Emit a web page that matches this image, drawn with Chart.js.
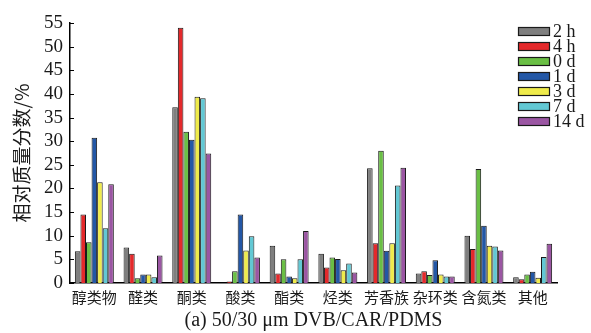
<!DOCTYPE html>
<html>
<head>
<meta charset="utf-8">
<script src="https://cdn.jsdelivr.net/npm/chart.js@4/dist/chart.umd.min.js"></script>
<style>
  html, body { margin: 0; padding: 0; background: #fff; }
  #wrap { width: 591px; height: 333px; }
</style>
</head>
<body>
<div id="wrap"><canvas id="c" width="591" height="333"></canvas></div>
<script>
// Compound classes on the x axis
const categories = ['醇类物', '醛类', '酮类', '酸类', '酯类', '烃类', '芳香族', '杂环类', '含氮类', '其他'];

// Storage times (one series each)
const seriesNames = ['2 h', '4 h', '0 d', '1 d', '3 d', '7 d', '14 d'];

// Relative mass fraction (%) per class, one array per storage time
const v2h  = [6.7, 7.5, 37.2, 0.0,  7.9, 6.2, 24.3, 2.0, 10.0, 1.2];
const v4h  = [14.5, 6.2, 54.0, 0.3, 2.0, 3.3, 8.4,  2.5, 7.2,  0.8];
const v0d  = [8.6, 1.0, 32.0, 2.5,  5.0, 5.4, 28.0, 1.7, 24.1, 1.8];
const v1d  = [30.7, 1.8, 30.3, 14.5, 1.4, 5.1, 6.8, 4.8, 12.1, 2.4];
const v3d  = [21.3, 1.8, 39.4, 6.9, 1.0, 2.7, 8.4,  1.8, 7.9,  1.1];
const v7d  = [11.6, 1.2, 39.1, 9.9, 5.0, 4.1, 20.6, 1.4, 7.7,  5.5];
const v14d = [20.9, 5.8, 27.4, 5.4, 11.0, 2.2, 24.4, 1.4, 6.9, 8.3];

// Y axis tick values
const yTicks = [0, 5, 10, 15, 20, 25, 30, 35, 40, 45, 50, 55];

const seriesValues = [v2h, v4h, v0d, v1d, v3d, v7d, v14d];
const seriesColors = ['#7f7f7f', '#e4292b', '#6abf45', '#2357a6', '#efeb4b', '#62c8d4', '#9b56a3'];

const serif = '"Liberation Serif", "Times New Roman", serif';
const cjk = '"Noto Sans CJK SC", sans-serif';

// Short inward tick marks on the value axis
const inwardTicks = {
  id: 'inwardTicks',
  afterDatasetsDraw(chart) {
    const y = chart.scales.y;
    const ctx = chart.ctx;
    const x0 = chart.chartArea.left;
    ctx.save();
    ctx.strokeStyle = '#000';
    ctx.lineWidth = 1;
    y.ticks.forEach((t, i) => {
      const py = Math.round(y.getPixelForTick(i)) + 0.5;
      ctx.beginPath();
      ctx.moveTo(x0, py);
      ctx.lineTo(x0 + 4, py);
      ctx.stroke();
    });
    ctx.restore();
  }
};

// Compact legend stacked in the upper right of the plot
const compactLegend = {
  id: 'compactLegend',
  afterDraw(chart) {
    const ctx = chart.ctx;
    const area = chart.chartArea;
    const boxW = 32, boxH = 9, rowH = 15;
    const bx = area.right - 39;
    let by = area.top + 4;
    ctx.save();
    ctx.font = '18px ' + serif;
    ctx.textBaseline = 'middle';
    ctx.textAlign = 'left';
    chart.data.datasets.forEach(ds => {
      ctx.fillStyle = ds.backgroundColor;
      ctx.fillRect(bx, by, boxW, boxH);
      ctx.strokeStyle = '#1a1a1a';
      ctx.lineWidth = 1.2;
      ctx.strokeRect(bx + 0.5, by + 0.5, boxW - 1, boxH - 1);
      ctx.fillStyle = '#1a1a1a';
      ctx.fillText(ds.label, bx + boxW + 3, by + boxH / 2 + 1);
      by += rowH;
    });
    ctx.restore();
  }
};

new Chart(document.getElementById('c'), {
  type: 'bar',
  data: {
    labels: categories,
    datasets: seriesNames.map((name, i) => ({
      label: name,
      data: seriesValues[i],
      backgroundColor: seriesColors[i],
      borderColor: '#1a1a1a',
      borderWidth: 1,
      categoryPercentage: 0.8,
      barPercentage: 1.0
    }))
  },
  options: {
    responsive: false,
    animation: false,
    devicePixelRatio: 1,
    layout: { padding: { top: 23, right: 34, bottom: 0, left: 0 } },
    plugins: {
      legend: { display: false },
      tooltip: { enabled: false },
      title: {
        display: true,
        fullSize: false,
        position: 'bottom',
        text: '(a) 50/30 μm DVB/CAR/PDMS',
        color: '#1a1a1a',
        font: { family: serif, size: 20, weight: 'normal' },
        padding: { top: 0, bottom: 0 }
      }
    },
    scales: {
      x: {
        grid: { display: false, drawTicks: false },
        border: { display: true, color: '#000', width: 1.5 },
        ticks: {
          color: '#1a1a1a',
          font: { family: cjk, size: 15 },
          padding: 5,
          maxRotation: 0,
          autoSkip: false
        },
        afterFit(scale) { scale.height = 26; }
      },
      y: {
        min: 0,
        max: 55,
        afterBuildTicks(scale) { scale.ticks = yTicks.map(v => ({ value: v })); },
        grid: { display: false, drawTicks: false },
        border: { display: true, color: '#000', width: 1.5 },
        ticks: {
          color: '#1a1a1a',
          font: { family: serif, size: 19 },
          padding: 7,
          autoSkip: false
        },
        title: {
          display: true,
          text: '相对质量分数/%',
          color: '#1a1a1a',
          font: { family: cjk, size: 19 },
          padding: { top: 10, bottom: 0 }
        },
        afterFit(scale) { scale.width = 70; }
      }
    }
  },
  plugins: [inwardTicks, compactLegend]
});
</script>
</body>
</html>
